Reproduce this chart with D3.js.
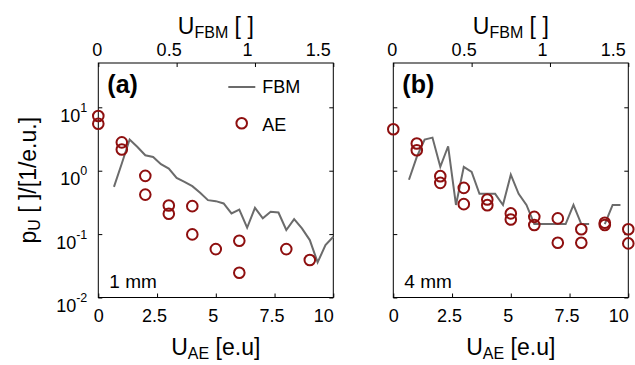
<!DOCTYPE html>
<html>
<head>
<meta charset="utf-8">
<script src="https://cdn.jsdelivr.net/npm/d3@7"></script>
<style>
  body { margin: 0; background: #fff; }
  svg { display: block; font-family: "Liberation Sans", Arial, sans-serif; }
  text { white-space: pre; }
</style>
</head>
<body>
<svg id="chart" width="635" height="365"></svg>
<script>
// values
const fbmX = [0.1, 0.15, 0.2, 0.25, 0.3, 0.35, 0.4, 0.45, 0.5, 0.55, 0.6, 0.65, 0.7, 0.75,
  0.8, 0.85, 0.9, 0.95, 1.0, 1.05, 1.1, 1.15, 1.2, 1.25, 1.3, 1.35, 1.4, 1.45, 1.5];
const fbm1mm = [0.556, 1.3, 3.1, 2.37, 1.75, 1.65, 1.27, 1.08, 0.77, 0.667, 0.57, 0.448, 0.343, 0.331,
  0.304, 0.212, 0.244, 0.126, 0.26, 0.177, 0.225, 0.219, 0.116, 0.172, 0.123, 0.0805, 0.0358, 0.067, 0.0907];
const fbm4mm = [0.72, 1.65, 3.1, 3.33, 1.15, 2.43, 0.288, 1.15, 0.96, 0.432, 0.432, 0.432, 0.288, 0.864,
  0.432, 0.288, 0.144, 0.144, 0.144, 0.144, 0.144, 0.288, 0.144, 0.144, null, 0.144, 0.288, 0.288, null];

const ae1mmX = [0, 0, 1, 1, 2, 2, 3, 3, 4, 4, 5, 6, 6, 8, 9];
const ae1mmY = [7.3, 5.5, 2.8, 2.16, 0.83, 0.42, 0.283, 0.21, 0.276, 0.099, 0.058, 0.0785, 0.0246, 0.058, 0.039];
const ae4mmX = [0, 1, 1, 2, 2, 3, 3, 4, 4, 5, 5, 6, 6, 7, 7, 8, 8, 9, 9, 10, 10];
const ae4mmY = [4.5, 2.68, 2.1, 0.82, 0.643, 0.536, 0.297, 0.352, 0.286, 0.212, 0.17, 0.187, 0.139,
  0.177, 0.073, 0.119, 0.073, 0.151, 0.139, 0.119, 0.0713];

const bottomTicks = [0, 2.5, 5, 7.5, 10];
const topTicks = [0, 0.5, 1, 1.5];
const yTicks = [0.01, 0.1, 1, 10];

const W = 235, H = 234.5, TOP = 63;
const RED = "#8e0f0f", GREY = "#6b6b6b";
const R = 5.3;

const svg = d3.select("#chart");

const xAE = d3.scaleLinear().domain([0, 10]).range([0, W]);
const xFBM = d3.scaleLinear().domain([0, 1.5]).range([0, W]);
const y = d3.scaleLog().domain([0.01, 50]).range([H, 0]);

const panels = [
  { left: 98.3, tag: "(a)", size: "1 mm", fbm: fbm1mm, aeX: ae1mmX, aeY: ae1mmY, legend: true, yLabels: true },
  { left: 393.3, tag: "(b)", size: "4 mm", fbm: fbm4mm, aeX: ae4mmX, aeY: ae4mmY, legend: false, yLabels: false },
];

function fmtNum(d) {
  return String(d);
}

panels.forEach((p) => {
  const g = svg.append("g").attr("transform", `translate(${p.left},${TOP})`);

  // bottom axis (U_AE)
  const bx = g.append("g").attr("transform", `translate(0,${H})`)
    .call(d3.axisBottom(xAE).tickValues(bottomTicks).tickSizeInner(-4).tickSizeOuter(0)
      .tickPadding(12).tickFormat(fmtNum));
  // top axis (U_FBM)
  const tx = g.append("g")
    .call(d3.axisTop(xFBM).tickValues(topTicks).tickSizeInner(-4).tickSizeOuter(0)
      .tickPadding(7).tickFormat(fmtNum));
  // left / right log ticks
  const ly = g.append("g")
    .call(d3.axisLeft(y).tickValues(yTicks).tickSizeInner(-4).tickSizeOuter(0)
      .tickPadding(11).tickFormat(() => "10"));
  g.append("g").attr("transform", `translate(${W},0)`)
    .call(d3.axisRight(y).tickValues(yTicks).tickSizeInner(-4).tickSizeOuter(0).tickFormat(""));

  g.selectAll(".domain").remove();
  g.selectAll(".tick line").attr("stroke", "#000").attr("stroke-width", 1);
  g.selectAll(".tick text").attr("font-size", 18).attr("fill", "#000")
    .attr("font-family", "Liberation Sans, Arial, sans-serif");

  bx.selectAll(".tick text")
    .attr("text-anchor", (d) => (d === 10 ? "end" : "middle"))
    .attr("dx", (d) => (d === 0 || d === 10 ? 0 : -3));
  tx.selectAll(".tick text")
    .attr("text-anchor", (d) => (d === 1.5 ? "end" : "middle"))
    .attr("dx", (d) => (d === 0 ? -1.5 : d === 1.5 ? -3 : -8));

  if (p.yLabels) {
    ly.selectAll(".tick text").attr("dy", 14).each(function (d) {
      const t = d3.select(this);
      t.text(null);
      t.append("tspan").text("10");
      t.append("tspan").attr("dy", -10).attr("font-size", 12.5).text(Math.round(Math.log10(d)));
    });
  } else {
    ly.selectAll(".tick text").remove();
  }

  // frame
  g.append("rect").attr("width", W).attr("height", H)
    .attr("fill", "none").attr("stroke", "#000").attr("stroke-width", 1);

  // FBM line
  const line = d3.line()
    .defined((d) => d[1] != null)
    .x((d) => xFBM(d[0]))
    .y((d) => y(d[1]));
  g.append("path")
    .datum(fbmX.map((v, i) => [v, p.fbm[i]]))
    .attr("d", line)
    .attr("fill", "none")
    .attr("stroke", GREY)
    .attr("stroke-width", 2)
    .attr("stroke-linejoin", "miter");

  // AE circles
  g.append("g").selectAll("circle")
    .data(p.aeX.map((v, i) => [v, p.aeY[i]]))
    .enter().append("circle")
    .attr("cx", (d) => xAE(d[0]))
    .attr("cy", (d) => y(d[1]))
    .attr("r", R)
    .attr("fill", "none")
    .attr("stroke", RED)
    .attr("stroke-width", 2);

  // panel tag and electrode size
  g.append("text").attr("x", 9).attr("y", 30)
    .attr("font-size", 25).attr("font-weight", "bold").text(p.tag);
  g.append("text").attr("x", 11).attr("y", 225)
    .attr("font-size", 19).text(p.size);

  // legend
  if (p.legend) {
    const lg = g.append("g");
    lg.append("line").attr("x1", 130).attr("x2", 157).attr("y1", 24).attr("y2", 24)
      .attr("stroke", GREY).attr("stroke-width", 2);
    lg.append("text").attr("x", 164).attr("y", 30).attr("font-size", 18).text("FBM");
    lg.append("circle").attr("cx", 143.4).attr("cy", 60.3).attr("r", R)
      .attr("fill", "none").attr("stroke", RED).attr("stroke-width", 2);
    lg.append("text").attr("x", 164).attr("y", 68).attr("font-size", 18).text("AE");
  }

  // axis titles
  const top = g.append("text").attr("x", W / 2).attr("y", -29)
    .attr("text-anchor", "middle").attr("font-size", 23);
  top.append("tspan").text("U");
  top.append("tspan").attr("font-size", 16).attr("dy", 4).text("FBM");
  top.append("tspan").attr("dy", -4).text(" [ ]");

  const bot = g.append("text").attr("x", W / 2).attr("y", H + 57)
    .attr("text-anchor", "middle").attr("font-size", 23);
  bot.append("tspan").text("U");
  bot.append("tspan").attr("font-size", 16).attr("dy", 4).text("AE");
  bot.append("tspan").attr("dy", -4).text(" [e.u]");

  if (p.yLabels) {
    const yl = g.append("text")
      .attr("transform", `translate(-62,${H / 2}) rotate(-90)`)
      .attr("text-anchor", "middle").attr("font-size", 23);
    yl.append("tspan").text("p");
    yl.append("tspan").attr("font-size", 16).attr("dy", 4).text("U");
    yl.append("tspan").attr("dy", -4).text(" [ ]/[1/e.u.]");
  }
});
</script>
</body>
</html>
